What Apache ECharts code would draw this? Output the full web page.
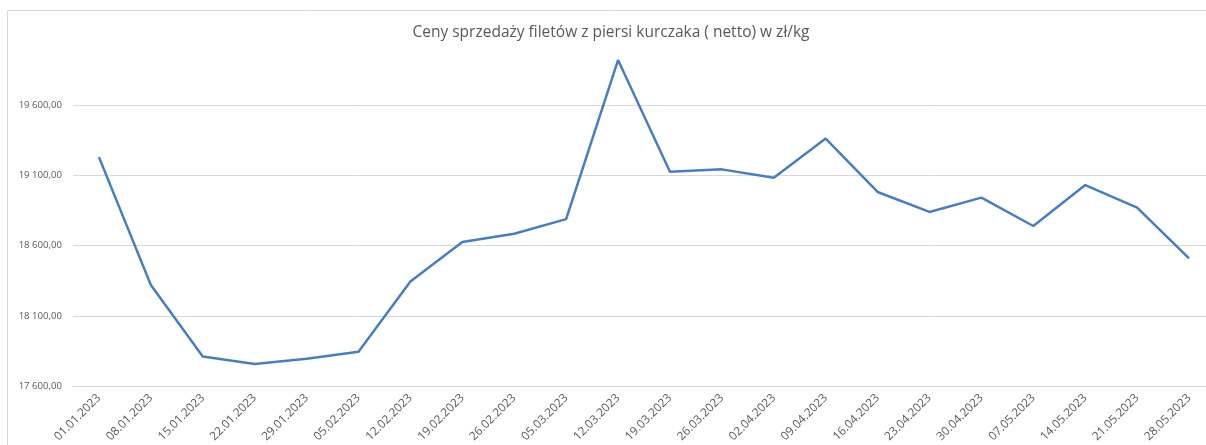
<!DOCTYPE html>
<html>
<head>
<meta charset="utf-8">
<script src="https://cdn.jsdelivr.net/npm/echarts@6/dist/echarts.min.js"></script>
<style>
  html, body { margin: 0; padding: 0; background: #fff; overflow: hidden; }
  /* wykres w oryginale jest przycięty z prawej strony */
  #price-chart { width: 1222px; height: 445px; }
</style>
</head>
<body>
<div id="price-chart"></div>
<script>
// tygodniowe ceny (zł/kg netto)
const dates = ['01.01.2023', '08.01.2023', '15.01.2023', '22.01.2023', '29.01.2023', '05.02.2023',
  '12.02.2023', '19.02.2023', '26.02.2023', '05.03.2023', '12.03.2023', '19.03.2023',
  '26.03.2023', '02.04.2023', '09.04.2023', '16.04.2023', '23.04.2023', '30.04.2023',
  '07.05.2023', '14.05.2023', '21.05.2023', '28.05.2023']
const prices = [19230, 18320, 17810, 17758, 17794, 17845,
  18344, 18626, 18685, 18789, 19921, 19126,
  19143, 19084, 19362, 18982, 18840, 18942,
  18740, 19031, 18871, 18510]
const yMin = 17600
const yMax = 20000
const yStep = 500
const chartTitle = 'Ceny sprzedaży filetów z piersi kurczaka ( netto) w zł/kg'

// "19 600,00"
function fmtPln (v) {
  const parts = v.toFixed(2).split('.')
  return parts[0].replace(/\B(?=(\d{3})+(?!\d))/g, ' ') + ',' + parts[1]
}

const myChart = echarts.init(document.getElementById('price-chart'))
const gridColor = '#d9d9d9'
const option = {
  animation: false,
  textStyle: { fontFamily: 'Open Sans, sans-serif' },
  title: {
    text: chartTitle,
    left: 'center',
    top: 20,
    textStyle: { color: '#595959', fontSize: 15.5, fontWeight: 'normal', fontFamily: 'Open Sans, sans-serif' }
  },
  graphic: [{
    type: 'rect',
    shape: { x: 7.5, y: 10.5, width: 1300, height: 600 },
    style: { fill: 'none', stroke: gridColor, lineWidth: 1 },
    silent: true,
    z: -1
  }],
  grid: {
    left: 73,
    right: 7,
    top: 49,
    bottom: 58
  },
  xAxis: {
    type: 'category',
    data: dates,
    boundaryGap: true,
    axisLine: { show: true, lineStyle: { color: gridColor } },
    axisTick: { show: false },
    axisLabel: {
      rotate: 45,
      interval: 0,
      margin: 10,
      color: '#595959',
      fontSize: 11.8
    }
  },
  yAxis: {
    type: 'value',
    min: yMin,
    max: yMax,
    interval: yStep,
    axisLine: { show: false },
    axisTick: { show: false },
    axisLabel: {
      color: '#595959',
      fontSize: 9.6,
      margin: 11,
      showMaxLabel: false,
      formatter: fmtPln
    },
    splitLine: {
      lineStyle: {
        color: [gridColor, gridColor, gridColor, gridColor, gridColor, 'rgba(0,0,0,0)'],
        width: 1
      }
    }
  },
  series: [{
    name: 'cena',
    type: 'line',
    data: prices,
    symbol: 'none',
    lineStyle: { color: '#4a7ebb', width: 2.5 }
  }]
}
myChart.setOption(option)
</script>
</body>
</html>
